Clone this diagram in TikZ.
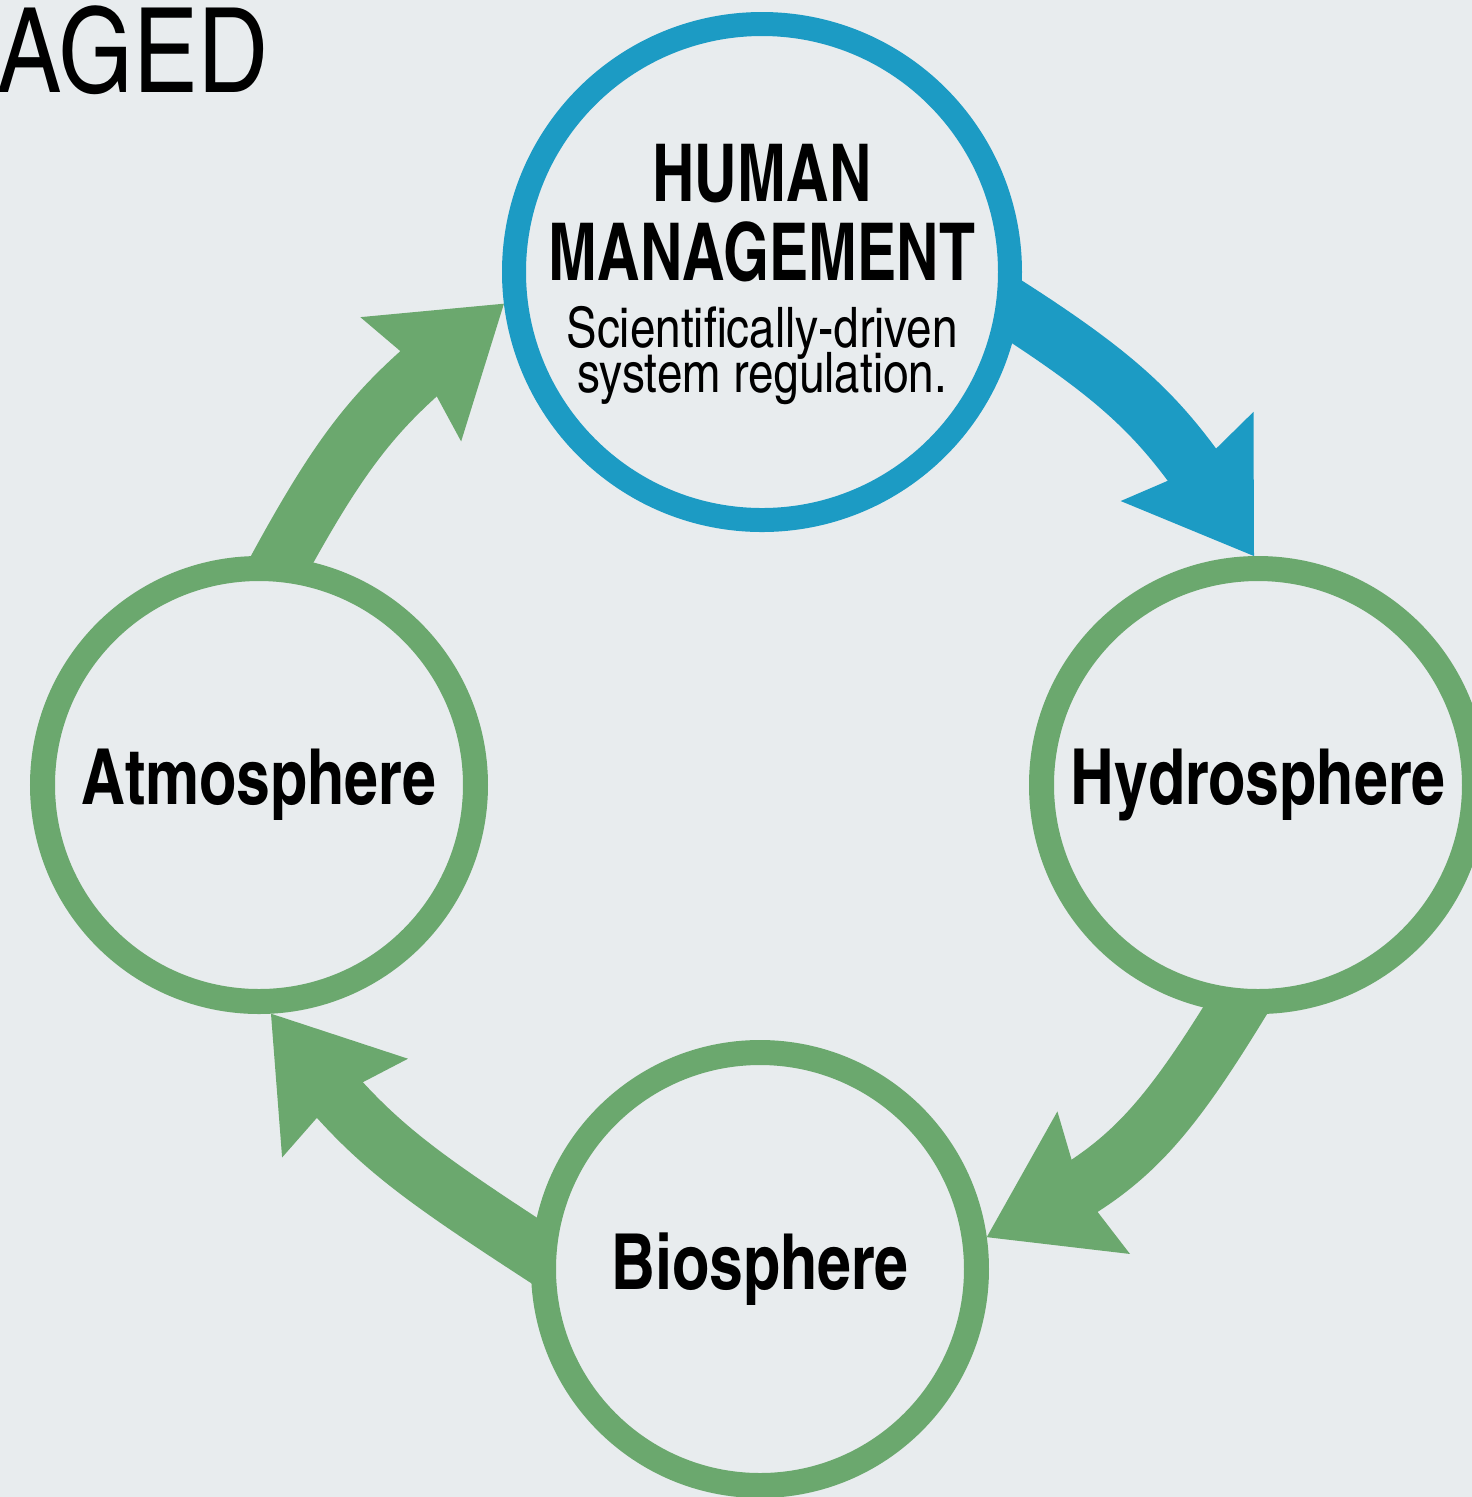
\documentclass[tikz,border=0pt]{standalone}
\usepackage{fontspec}
\setmainfont{texgyreheroscn}[Extension=.otf, UprightFont=*-regular, BoldFont=*-bold]
\newfontfamily\labelfont{texgyreheroscn-bold.otf}[FakeStretch=0.96]
\newfontfamily\titlefont{texgyreheroscn-bold.otf}[FakeStretch=0.9]
\usepackage{tikz}
\usetikzlibrary{arrows.meta,bending,backgrounds}
\definecolor{paper}{RGB}{232,236,238}
\definecolor{leaf}{RGB}{107,168,110}
\definecolor{sea}{RGB}{28,155,196}
\setlength{\lineskiplimit}{-20pt}

\begin{document}
\begin{tikzpicture}[
  sphere/.style={circle, draw=leaf, line width=0.25cm, fill=paper, minimum size=4.33cm, inner sep=0pt, font=\labelfont\fontsize{22pt}{24pt}\selectfont},
  hub/.style={sphere, draw=sea, line width=0.24cm, minimum size=4.96cm},
  flow/.style={line width=0.58cm, shorten <=-0.4cm, looseness=1.1, -{Stealth[length=12mm, width=16mm, inset=1.5mm, line width=0pt, flex]}}
]
\useasboundingbox (0,0) rectangle (14.72,-14.97);
\node[anchor=base west, inner sep=0pt, font=\fontsize{33.5pt}{36pt}\selectfont] (aged) at (-0.03,-0.92) {AGED};

% the four spheres of the cycle
\node[hub] (human) at (7.62,-2.72) {};
\node[sphere] (atmo) at (2.59,-7.85) {Atmosphere};
\node[sphere] (hydro) at (12.58,-7.85) {Hydrosphere};
\node[sphere] (bio) at (7.60,-12.69) {Biosphere};

\node[align=center, font=\titlefont\fontsize{22.7pt}{22.4pt}\selectfont] (humantitle) at (7.62,-2.13) {HUMAN\\MANAGEMENT};
\node[align=center, font=\fontsize{15.9pt}{12.8pt}\selectfont] (humansub) at (7.62,-3.56) {Scientifically-driven\\system regulation.};

% arrows go under the rings
\begin{scope}[on background layer]
\fill[paper] (0,0) rectangle (14.72,-14.97);
\draw[flow, sea] (human.-9) to[out=-32, in=123] (hydro.91);
\draw[flow, leaf] (hydro.264) to[out=239, in=24] (bio.8);
\draw[flow, leaf] (bio.175) to[out=147, in=306] (atmo.273);
\draw[flow, leaf] (atmo.84) to[out=62, in=218] (human.187);
\end{scope}
\end{tikzpicture}
\end{document}
